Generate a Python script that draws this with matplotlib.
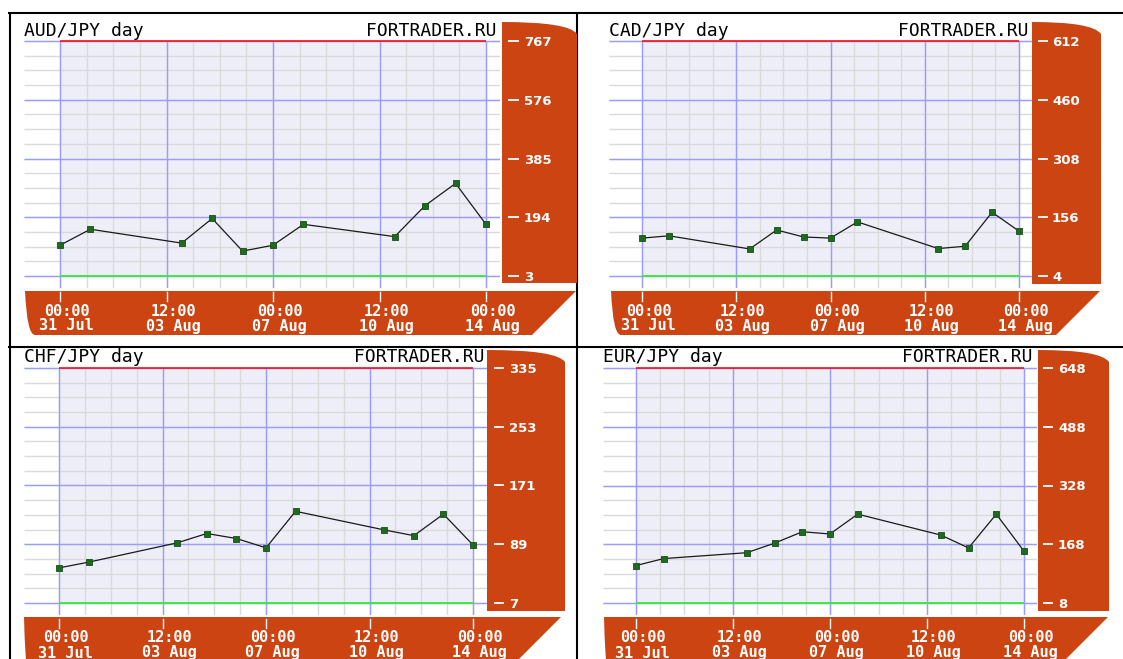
import numpy as np
import pandas as pd
import matplotlib
matplotlib.use('Agg')
import matplotlib.pyplot as plt
import matplotlib.dates as mdates
from matplotlib.path import Path
from matplotlib.patches import PathPatch
from matplotlib.transforms import blended_transform_factory, ScaledTranslation

W, H = 1123, 659

# торговые дни (2014)
dates = ['2014-07-31', '2014-08-01', '2014-08-04', '2014-08-05', '2014-08-06', '2014-08-07',
         '2014-08-08', '2014-08-11', '2014-08-12', '2014-08-13', '2014-08-14']
tick_times = ['2014-07-31 00:00', '2014-08-03 12:00', '2014-08-07 00:00',
              '2014-08-10 12:00', '2014-08-14 00:00']

aud_jpy = [103, 155, 110, 190, 84, 103, 171, 131, 232, 304, 171]
cad_jpy = [102, 108, 74, 123, 105, 102, 144, 75, 81, 169, 120]
chf_jpy = [56, 64, 91, 104, 97, 84, 135, 109, 101, 131, 88]
eur_jpy = [110, 129, 145, 171, 202, 196, 250, 193, 158, 250, 149]

aud_ticks = [3, 194, 385, 576, 767]
cad_ticks = [4, 156, 308, 460, 612]
chf_ticks = [7, 89, 171, 253, 335]
eur_ticks = [8, 168, 328, 488, 648]

titles = ['AUD/JPY day', 'CAD/JPY day', 'CHF/JPY day', 'EUR/JPY day']
brand = 'FORTRADER.RU'

ORANGE = '#cc4412'
MONO = 'DejaVu Sans Mono'

# геометрия панелей в пикселях
panels = [
    dict(title=titles[0], vals=aud_jpy, ticks=aud_ticks,
         gx0=24, x0=60, x1=486, gx1=500, ytop=41, ybot=276, vbot=288,
         side=(502, 577, 22, 283), foot=(25, 576, 291, 335),
         brand_x=497, base=36.5, dash=(508, 519), lab_x=524),
    dict(title=titles[1], vals=cad_jpy, ticks=cad_ticks,
         gx0=609, x0=642, x1=1019, gx1=1032, ytop=41, ybot=276, vbot=288,
         side=(1032, 1101, 22, 284), foot=(611, 1100, 291, 335),
         brand_x=1028, base=36.5, dash=(1038, 1048), lab_x=1052),
    dict(title=titles[2], vals=chf_jpy, ticks=chf_ticks,
         gx0=24, x0=59, x1=473, gx1=487, ytop=368, ybot=603, vbot=615,
         side=(487, 565, 350, 611), foot=(24, 561, 617, 700),
         brand_x=484, base=362.5, dash=(494, 504), lab_x=509),
    dict(title=titles[3], vals=eur_jpy, ticks=eur_ticks,
         gx0=603, x0=636, x1=1024, gx1=1037, ytop=368, ybot=603, vbot=615,
         side=(1038, 1109, 350, 611), foot=(604, 1108, 617, 700),
         brand_x=1033, base=362.5, dash=(1043, 1053), lab_x=1058),
]


def side_patch(x0, x1, y0, y1):
    # верхний правый угол скруглён плавной дугой
    verts = [(x0, y1), (x0, y0), (x1 - 8, y0), (x1, y0 + 12), (x1, y1), (x0, y1)]
    codes = [Path.MOVETO, Path.LINETO, Path.CURVE3, Path.CURVE3, Path.LINETO, Path.CLOSEPOLY]
    return PathPatch(Path(verts, codes), facecolor=ORANGE, edgecolor='none', zorder=2)


def foot_patch(x0, x1, y0, y1):
    h = y1 - y0
    verts = [(x0, y0), (x1, y0), (x1 - h, y1), (x0 + 10, y1), (x0 + 2, y1), (x0, y0), (x0, y0)]
    codes = [Path.MOVETO, Path.LINETO, Path.LINETO, Path.LINETO, Path.CURVE3, Path.CURVE3,
             Path.CLOSEPOLY]
    return PathPatch(Path(verts, codes), facecolor=ORANGE, edgecolor='none', zorder=2)


def draw_panel(fig, bg, p):
    ax = fig.add_axes([p['gx0'] / W, 1 - p['vbot'] / H,
                       (p['gx1'] - p['gx0']) / W, (p['vbot'] - p['ytop'] + 2) / H])
    ax.set_axis_off()

    xd = mdates.date2num(pd.to_datetime(dates))
    xt = mdates.date2num(pd.to_datetime(tick_times))
    d0, d1 = xt[0], xt[-1]
    ppd = (p['x1'] - p['x0']) / (d1 - d0)
    lo, hi = p['ticks'][0], p['ticks'][-1]
    vpp = (hi - lo) / (p['ybot'] - p['ytop'])
    xl = (d0 - (p['x0'] - p['gx0']) / ppd, d1 + (p['gx1'] - p['x1']) / ppd)
    yl = (lo - (p['vbot'] - p['ybot']) * vpp, hi + 2 * vpp)
    ax.set_xlim(*xl)
    ax.set_ylim(*yl)

    # фон и сетка
    ax.fill_between([d0, d1], lo, hi, color='#eeeef8', lw=0, zorder=0)
    ax.hlines(np.linspace(lo, hi, 17), xl[0], xl[1], colors='#dadada', lw=1.0, zorder=1)
    ax.vlines(np.linspace(d0, d1, 17), yl[0], hi, colors='#dadada', lw=1.0, zorder=1)
    ax.hlines(p['ticks'], xl[0], xl[1], colors='#9c9cff', lw=1.0, zorder=2)
    ax.vlines(xt, yl[0], hi, colors='#9c9cff', lw=1.0, zorder=2)
    ax.hlines(hi, d0, d1, colors='#ff0000', lw=1.1, zorder=3)
    ax.hlines(lo, d0, d1, colors='#33ee33', lw=1.3, zorder=3)

    # данные
    ax.plot(xd, p['vals'], color='#1a1a1a', lw=0.9, zorder=5)
    ax.plot(xd, p['vals'], ls='none', marker='s', ms=4.6, mfc='#1f6a1f', mec='#164f16',
            mew=0.6, zorder=6)

    # шкала Y на оранжевой панели
    tr_y = blended_transform_factory(fig.transFigure, ax.transData)
    for t in p['ticks']:
        ax.plot([p['dash'][0] / W, p['dash'][1] / W], [t, t], transform=tr_y, color='white',
                lw=1.3, solid_capstyle='butt', clip_on=False, zorder=7)
        ax.text(p['lab_x'] / W, t, str(t), transform=tr_y, color='white', fontsize=9.5,
                fontweight='bold', ha='left', va='center_baseline', zorder=7)

    # шкала X на нижней панели
    tr_x = blended_transform_factory(ax.transData, fig.transFigure)
    off = ScaledTranslation(6.5 / 100, 0, fig.dpi_scale_trans)
    vb = p['vbot']
    for t, s in zip(xt, tick_times):
        ts = pd.Timestamp(s)
        ax.plot([t, t], [1 - (vb + 4) / H, 1 - (vb + 13) / H], transform=tr_x, color='white',
                lw=1.0, clip_on=False, zorder=7)
        ax.text(t, 1 - (vb + 21.5) / H, ts.strftime('%H:%M'), transform=tr_x + off,
                color='white', family=MONO, fontsize=11, fontweight='bold',
                ha='center', va='center_baseline', zorder=7)
        ax.text(t, 1 - (vb + 36.5) / H, ts.strftime('%d %b'), transform=tr_x + off,
                color='white', family=MONO, fontsize=11, fontweight='bold',
                ha='center', va='center_baseline', zorder=7)

    # оранжевые подложки и заголовки
    bg.add_patch(side_patch(*p['side']))
    bg.add_patch(foot_patch(*p['foot']))
    bg.text(p['gx0'], p['base'], p['title'], family=MONO, fontsize=13, color='black',
            ha='left', va='baseline')
    bg.text(p['brand_x'], p['base'], brand, family=MONO, fontsize=13, color='black',
            ha='right', va='baseline')


fig = plt.figure(figsize=(W / 100, H / 100), dpi=100)
bg = fig.add_axes([0, 0, 1, 1])
bg.set_xlim(0, W)
bg.set_ylim(H, 0)
bg.set_axis_off()

# чёрная рамка
bg.hlines([12.5, 346.5], 8, W, colors='black', lw=1.5, zorder=1)
bg.vlines([9.5, 577], 12, H, colors='black', lw=1.5, zorder=1)

for p in panels:
    draw_panel(fig, bg, p)

fig.savefig('out.png', dpi=100)
